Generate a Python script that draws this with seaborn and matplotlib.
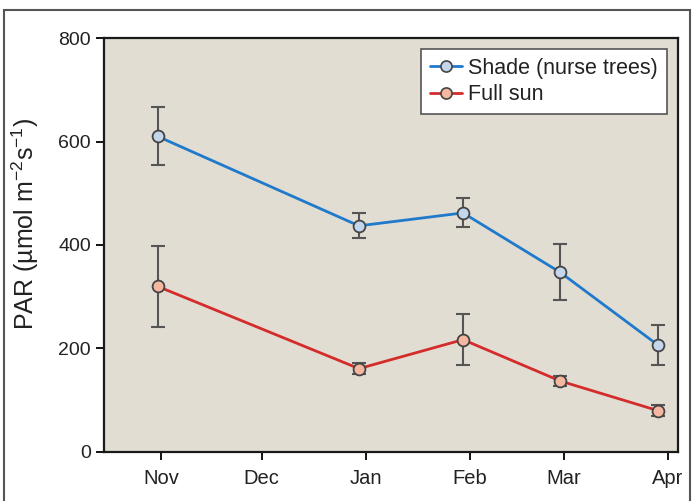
import numpy as np
import pandas as pd
import matplotlib
matplotlib.use('Agg')
import matplotlib.pyplot as plt
from matplotlib.patches import Rectangle
from matplotlib.lines import Line2D
import seaborn as sns

# Data
dates = pd.to_datetime(['2012-10-31', '2012-12-30', '2013-01-30', '2013-02-28', '2013-03-29'])
shade = [610, 437, 462, 347, 207]
shade_err = [56, 24, 28, 54, 39]
sun = [320, 161, 217, 137, 80]
sun_err = [79, 11, 49, 10, 10]
month_ticks = pd.to_datetime(['2012-11-01', '2012-12-01', '2013-01-01', '2013-02-01', '2013-03-01', '2013-04-01'])
month_labels = ['Nov', 'Dec', 'Jan', 'Feb', 'Mar', 'Apr']

df = pd.DataFrame({'Date': list(dates) * 2,
                   'PAR': shade + sun,
                   'err': shade_err + sun_err,
                   'Site': ['Shade (nurse trees)'] * 5 + ['Full sun'] * 5})

sns.set_style('ticks')
plt.rcParams['font.family'] = ['Liberation Sans', 'DejaVu Sans']
plt.rcParams['mathtext.fontset'] = 'custom'
plt.rcParams['mathtext.rm'] = 'Liberation Sans'
plt.rcParams['mathtext.it'] = 'Liberation Sans'

fig = plt.figure(figsize=(6.93, 5.01), dpi=100)
ax = fig.add_axes([0.150, 0.098, 0.828, 0.826])
ax.set_facecolor('#e2ddd3')

styles = {'Shade (nurse trees)': ('#1f7acb', '#c4d6ec'),
          'Full sun': ('#d42b2b', '#f6b7a0')}

handles = []
for name, (lc, fc) in styles.items():
    sub = df[df['Site'] == name]
    ax.errorbar(sub['Date'], sub['PAR'], yerr=sub['err'], fmt='none',
                ecolor='#555555', elinewidth=1.5, capsize=5, capthick=1.5, zorder=2)
    sns.lineplot(data=sub, x='Date', y='PAR', ax=ax, color=lc, lw=2,
                 marker='o', markersize=8.5, markerfacecolor=fc,
                 markeredgecolor='#444444', markeredgewidth=1.3, zorder=3)
    handles.append(Line2D([], [], color=lc, lw=2, marker='o', markersize=8,
                          markerfacecolor=fc, markeredgecolor='#444444',
                          markeredgewidth=1.2, label=name))

ax.set_xlim(pd.Timestamp('2012-10-15'), pd.Timestamp('2013-04-04'))
ax.set_ylim(0, 800)
ax.set_yticks([0, 200, 400, 600, 800])
ax.set_xticks(month_ticks)
ax.set_xticklabels(month_labels)
ax.set_xlabel('')
ax.set_ylabel('PAR (µmol m$^{\\mathregular{-2}}$s$^{\\mathregular{-1}}$)', fontsize=18,
              color='#222222')
ax.yaxis.set_label_coords(-0.11, 0.55)
ax.tick_params(axis='both', labelsize=14, length=6, width=1.3, colors='black',
               labelcolor='#222222')
ax.tick_params(axis='x', labelsize=14.5, pad=6)
for s in ax.spines.values():
    s.set_linewidth(1.6)
    s.set_color('#1a1a1a')

leg = ax.legend(handles=handles, loc='upper right', fontsize=15.5, frameon=True,
                fancybox=False, edgecolor='#555555', framealpha=1,
                handlelength=1.5, handletextpad=0.3, borderpad=0.4,
                labelspacing=0.25, borderaxespad=0,
                bbox_to_anchor=(0.981, 0.973))
leg.get_frame().set_linewidth(1.2)
for t in leg.get_texts():
    t.set_color('#222222')

fig.patches.append(Rectangle((0.006, -0.01), 0.99, 0.99, transform=fig.transFigure,
                             fill=False, edgecolor='#555555', lw=1.5))

fig.savefig('out.png', dpi=100)
